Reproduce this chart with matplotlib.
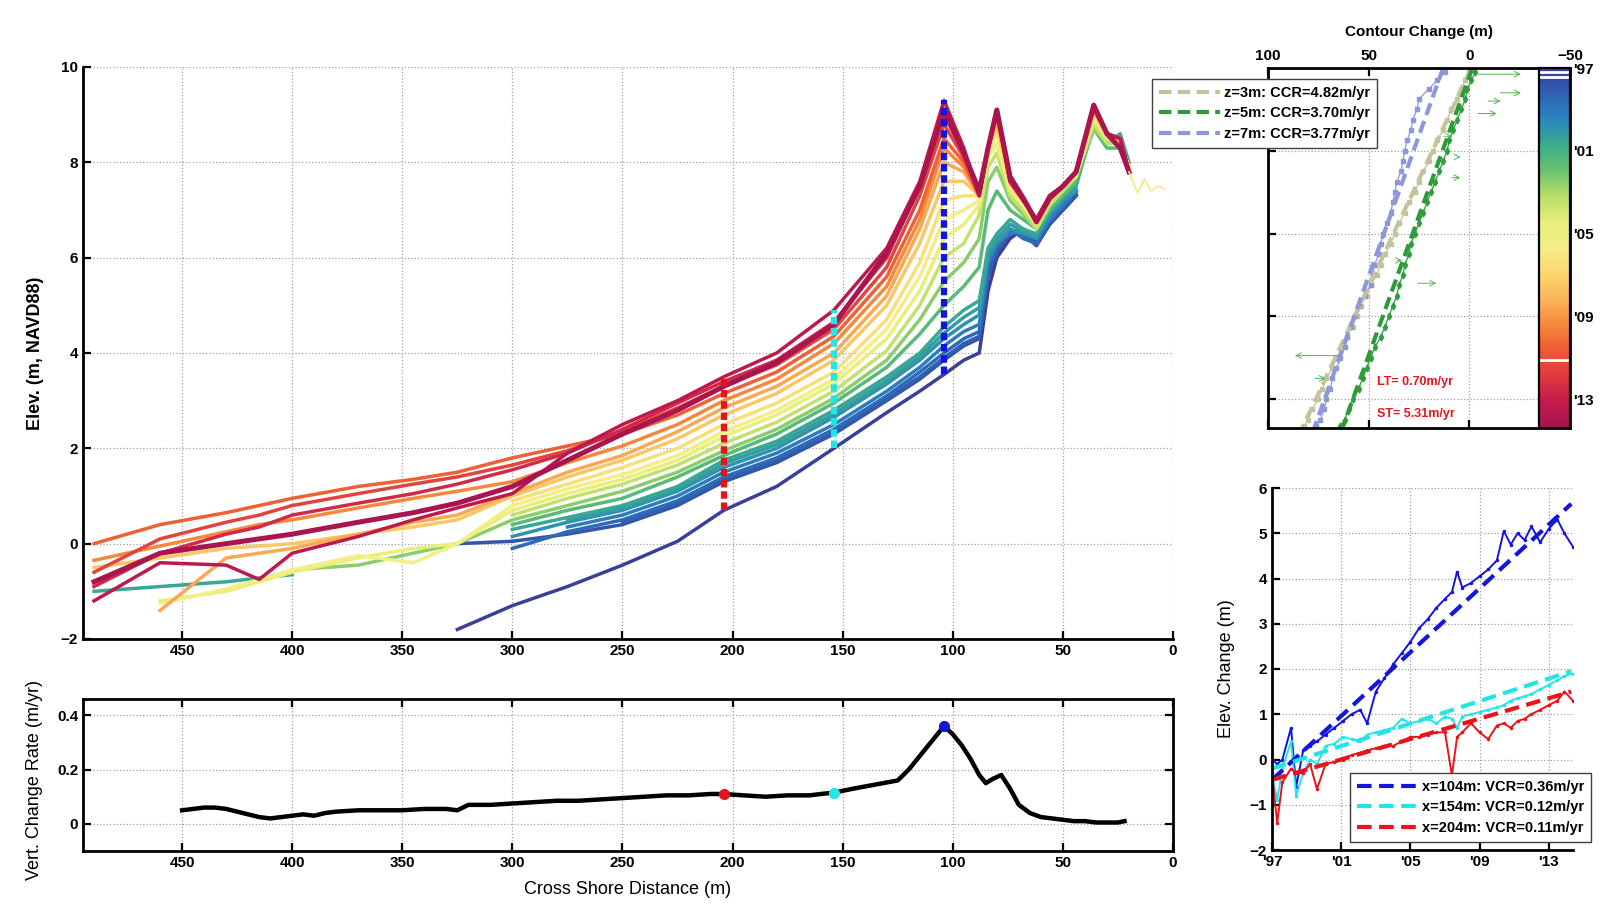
import numpy as np
import matplotlib
matplotlib.use('Agg')
import matplotlib.pyplot as plt
from matplotlib.colors import LinearSegmentedColormap, Normalize
from matplotlib.colorbar import ColorbarBase

plt.rcParams['font.family'] = ['Liberation Sans', 'DejaVu Sans']
plt.rcParams['font.weight'] = 'bold'
plt.rcParams['axes.labelweight'] = 'bold'

N = np.nan

# ---- beach profiles (cross-shore distance in m, elevation in m NAVD88) ----
x_st = [490, 460, 430, 415, 400, 370, 345, 325, 300, 275, 250, 225, 204, 180,
        154, 130, 115, 104, 95, 88, 84, 80, 74, 68, 62, 56, 50, 44, 36, 30, 24, 20]

z_1997_0 = [N, N, N, N, N, N, N, -1.8, -1.3, -0.9, -0.45, 0.05, 0.7, 1.2, 2.0, 2.75, 3.2, 3.55, 3.85, 4.0, 5.3, 6.0, 6.4, 6.6, 6.3, 6.7, 7.0, 7.3, N, N, N, N]
z_1997_8 = [N, N, N, N, N, N, N, 0.0, 0.05, 0.2, 0.4, 0.8, 1.3, 1.7, 2.3, 3.0, 3.45, 3.85, 4.15, 4.3, 5.6, 6.1, 6.5, 6.5, 6.25, 6.7, 7.0, 7.3, N, N, N, N]
z_1998_1 = [N, N, N, N, N, N, N, N, N, N, 0.45, 0.85, 1.35, 1.75, 2.35, 3.05, 3.5, 3.9, 4.2, 4.35, 5.7, 6.15, 6.55, 6.45, 6.3, 6.75, 7.05, 7.35, N, N, N, N]
z_1998_5 = [N, N, N, N, N, N, N, N, -0.1, 0.25, 0.5, 0.9, 1.4, 1.8, 2.4, 3.1, 3.6, 4.0, 4.3, 4.45, 5.8, 6.2, 6.6, 6.4, 6.3, 6.8, 7.1, 7.4, N, N, N, N]
z_1999_2 = [N, N, N, N, N, N, N, N, N, 0.35, 0.6, 1.0, 1.5, 1.9, 2.5, 3.2, 3.7, 4.15, 4.45, 4.6, 5.9, 6.3, 6.5, 6.6, 6.4, 6.8, 7.1, 7.4, N, N, N, N]
z_1999_9 = [N, N, N, N, N, N, N, N, 0.15, 0.45, 0.7, 1.1, 1.6, 2.0, 2.65, 3.35, 3.85, 4.3, 4.6, 4.8, 6.0, 6.3, 6.6, 6.5, 6.4, 6.9, 7.2, 7.4, N, N, N, N]
z_2000_2 = [N, N, N, N, N, N, N, N, N, 0.5, 0.75, 1.15, 1.68, 2.08, 2.72, 3.42, 3.92, 4.42, 4.75, 4.95, 6.1, 6.4, 6.7, 6.55, 6.45, 6.95, 7.25, 7.45, N, N, N, N]
z_2000_6 = [-1.0, -0.9, -0.8, -0.72, -0.65, N, N, N, 0.3, 0.55, 0.8, 1.2, 1.75, 2.15, 2.8, 3.5, 4.0, 4.55, 4.9, 5.1, 6.2, 6.5, 6.8, 6.6, 6.5, 7.0, 7.3, 7.5, 8.8, 8.4, 8.6, 8.0]
z_2001_5 = [N, N, N, N, N, N, N, N, 0.4, 0.7, 0.95, 1.4, 1.85, 2.3, 2.95, 3.7, 4.4, 5.0, 5.4, 5.8, 7.0, 7.4, 7.0, 6.8, 6.6, 7.0, 7.3, 7.6, 8.7, 8.3, 8.3, 7.9]
z_2002_5 = [N, N, N, N, -0.55, -0.45, -0.2, 0.0, 0.5, 0.8, 1.1, 1.5, 1.95, 2.4, 3.05, 3.85, 4.7, 5.5, 5.9, 6.4, 7.6, 7.9, 7.2, 6.9, 6.6, 7.1, 7.4, 7.7, 8.7, 8.4, 8.4, 7.9]
z_2003_5 = [N, N, N, N, N, N, N, N, 0.6, 0.95, 1.25, 1.65, 2.1, 2.55, 3.2, 4.05, 5.0, 6.0, 6.3, 6.9, 7.9, 8.2, 7.3, 7.0, 6.6, 7.1, 7.4, 7.7, 8.8, 8.4, 8.4, 7.9]
z_2004_5 = [N, -1.2, -1.0, -0.8, -0.6, -0.3, -0.1, 0.0, 0.7, 1.05, 1.35, 1.75, 2.25, 2.7, 3.35, 4.3, 5.3, 6.4, 6.7, 7.1, 8.1, 8.4, 7.4, 7.1, 6.7, 7.2, 7.5, 7.7, 8.9, 8.5, 8.4, 7.9]
z_2005_5 = [N, -1.25, -0.95, -0.75, -0.55, -0.25, -0.4, 0.0, 0.8, 1.15, 1.45, 1.85, 2.35, 2.8, 3.45, 4.5, 5.6, 6.8, 7.0, 7.2, 8.2, 8.6, 7.5, 7.1, 6.7, 7.2, 7.5, 7.8, 9.0, 8.5, 8.4, 7.9]
z_2006_5 = [N, N, N, N, N, N, N, N, 0.9, 1.25, 1.6, 2.0, 2.5, 2.95, 3.6, 4.7, 5.9, 7.2, 7.3, 7.3, 8.3, 8.7, 7.5, 7.2, 6.7, 7.2, 7.5, 7.8, 9.0, 8.5, 8.4, 7.8]
z_2007_5 = [-0.5, -0.3, -0.1, -0.05, 0.0, 0.2, 0.35, 0.5, 1.0, 1.4, 1.75, 2.2, 2.7, 3.15, 3.85, 5.0, 6.3, 7.6, 7.6, 7.3, 8.3, 8.8, 7.6, 7.2, 6.8, 7.2, 7.5, 7.8, 9.1, 8.6, 8.5, 7.8]
z_2008_5 = [N, -1.4, -0.3, -0.2, -0.1, 0.2, 0.45, 0.6, 1.05, 1.5, 1.85, 2.35, 2.85, 3.3, 4.0, 5.2, 6.6, 8.0, 7.8, 7.3, 8.3, 8.9, 7.6, 7.2, 6.8, 7.3, 7.5, 7.8, 9.1, 8.6, 8.5, 7.8]
z_2009_5 = [-0.35, -0.05, 0.25, 0.4, 0.5, 0.75, 0.95, 1.1, 1.3, 1.7, 2.05, 2.5, 3.0, 3.45, 4.2, 5.4, 6.8, 8.3, 7.9, 7.3, 8.3, 9.0, 7.6, 7.2, 6.8, 7.3, 7.5, 7.8, 9.1, 8.6, 8.5, 7.8]
z_2010_5 = [0.0, 0.4, 0.65, 0.8, 0.95, 1.2, 1.35, 1.5, 1.8, 2.05, 2.3, 2.7, 3.15, 3.6, 4.35, 5.6, 7.0, 8.5, 8.0, 7.3, 8.3, 9.0, 7.6, 7.2, 6.8, 7.3, 7.5, 7.8, 9.1, 8.6, 8.5, 7.8]
z_2011_5 = [-0.6, 0.1, 0.45, 0.6, 0.8, 1.05, 1.25, 1.4, 1.65, 1.95, 2.35, 2.85, 3.3, 3.75, 4.5, 5.8, 7.3, 8.8, 8.1, 7.3, 8.3, 9.1, 7.6, 7.2, 6.8, 7.3, 7.5, 7.8, 9.2, 8.6, 8.5, 7.8]
z_2012_5 = [-0.9, -0.2, 0.2, 0.35, 0.6, 0.85, 1.05, 1.25, 1.55, 1.9, 2.4, 2.95, 3.4, 3.85, 4.65, 6.0, 7.5, 9.0, 8.2, 7.3, 8.3, 9.1, 7.6, 7.2, 6.8, 7.3, 7.5, 7.8, 9.2, 8.6, 8.5, 7.8]
z_2013_5 = [-1.2, -0.4, -0.45, -0.75, -0.2, 0.15, 0.5, 0.75, 1.05, 1.9, 2.5, 3.0, 3.5, 4.0, 4.9, 6.2, 7.6, 9.3, 8.3, 7.3, 8.3, 9.1, 7.6, 7.2, 6.8, 7.3, 7.5, 7.8, 9.2, 8.6, 8.5, 7.8]
z_2014_3 = [-0.8, -0.2, 0.0, 0.1, 0.2, 0.45, 0.65, 0.85, 1.2, 1.75, 2.3, 2.8, 3.3, 3.8, 4.6, 6.1, 7.5, 9.1, 8.2, 7.4, 8.3, 9.1, 7.7, 7.25, 6.75, 7.25, 7.5, 7.8, 9.2, 8.6, 8.3, 7.8]

prof_years = [1997.0, 1997.8, 1998.1, 1998.5, 1999.2, 1999.9, 2000.2, 2000.6, 2001.5, 2002.5,
              2003.5, 2004.5, 2005.5, 2006.5, 2007.5, 2008.5, 2009.5, 2010.5, 2011.5, 2012.5,
              2013.5, 2014.3]
profiles = [z_1997_0, z_1997_8, z_1998_1, z_1998_5, z_1999_2, z_1999_9, z_2000_2, z_2000_6,
            z_2001_5, z_2002_5, z_2003_5, z_2004_5, z_2005_5, z_2006_5, z_2007_5, z_2008_5,
            z_2009_5, z_2010_5, z_2011_5, z_2012_5, z_2013_5, z_2014_3]

# thin landward tail of one survey
tail_x = [20, 16, 13, 10, 7, 4]
tail_z = [7.8, 7.35, 7.65, 7.4, 7.5, 7.45]
tail_year = 2006.0

# ---- vertical change rate along the profile ----
vcr_x = [450, 445, 440, 435, 430, 425, 420, 415, 410, 405, 400, 395, 390, 385, 380, 370, 360,
         350, 340, 330, 325, 320, 310, 300, 290, 280, 270, 260, 250, 240, 230, 220, 210, 204,
         195, 185, 175, 165, 160, 154, 145, 135, 125, 120, 115, 110, 106, 104, 100, 96, 92,
         88, 85, 82, 78, 74, 70, 65, 60, 55, 50, 45, 40, 35, 30, 25, 22]
vcr = [0.05, 0.055, 0.06, 0.06, 0.055, 0.045, 0.035, 0.025, 0.02, 0.025, 0.03, 0.035, 0.03,
       0.04, 0.045, 0.05, 0.05, 0.05, 0.055, 0.055, 0.05, 0.07, 0.07, 0.075, 0.08, 0.085,
       0.085, 0.09, 0.095, 0.1, 0.105, 0.105, 0.11, 0.11, 0.105, 0.1, 0.105, 0.105, 0.11,
       0.115, 0.13, 0.145, 0.16, 0.2, 0.25, 0.3, 0.34, 0.36, 0.33, 0.29, 0.24, 0.18, 0.15,
       0.165, 0.18, 0.13, 0.07, 0.04, 0.025, 0.02, 0.015, 0.01, 0.01, 0.005, 0.005, 0.005, 0.01]
pick_x = [204, 154, 104]
pick_colors = ['#e8141a', '#22e6e6', '#1414e0']

# ---- elevation change time series at the picked stations ----
t_v = [1997.0, 1997.3, 1997.6, 1998.1, 1998.4, 1998.8, 1999.2, 1999.6, 2000.1, 2000.6,
       2001.1, 2001.6, 2002.1, 2002.5, 2003.0, 2003.5, 2004.0, 2004.5, 2005.0, 2005.5,
       2006.0, 2006.5, 2007.0, 2007.4, 2007.7, 2008.0, 2008.5, 2009.0, 2009.5, 2010.0,
       2010.4, 2010.8, 2011.2, 2011.6, 2012.0, 2012.5, 2013.0, 2013.5, 2013.9, 2014.4]
e104 = [0.0, -0.1, 0.0, 0.7, -0.6, 0.2, 0.3, 0.4, 0.55, 0.7, 0.85, 1.0, 1.1, 0.8, 1.5, 1.8,
        2.1, 2.35, 2.6, 2.9, 3.1, 3.35, 3.55, 3.7, 4.15, 3.8, 3.9, 4.05, 4.2, 4.4, 5.05, 4.75,
        5.0, 4.85, 5.15, 4.8, 5.1, 5.3, 5.0, 4.7]
e154 = [-0.3, -0.9, -0.2, 0.4, -0.8, -0.3, 0.0, -0.1, 0.3, 0.35, 0.5, 0.45, 0.4, 0.55, 0.6,
        0.65, 0.7, 0.9, 0.8, 0.85, 0.9, 0.8, 0.95, 0.9, 0.7, 0.95, 1.0, 1.05, 1.1, 1.15, 1.2,
        1.3, 1.35, 1.4, 1.45, 1.55, 1.65, 1.75, 1.85, 1.9]
e204 = [-0.3, -1.4, -0.5, -0.2, -0.3, -0.3, -0.1, -0.65, -0.1, -0.05, 0.0, 0.1, 0.15, 0.2,
        0.25, 0.3, 0.3, 0.4, 0.5, 0.5, 0.55, 0.6, 0.6, -0.35, 0.5, 0.6, 0.8, 0.6, 0.45, 0.75,
        0.8, 0.7, 0.85, 0.9, 1.0, 1.1, 1.2, 1.3, 1.5, 1.3]
fit_t = [1997.0, 2014.3]
fit104 = [-0.45, 5.65]
fit154 = [-0.2, 1.95]
fit204 = [-0.45, 1.5]
vcr_labels = ['x=104m: VCR=0.36m/yr', 'x=154m: VCR=0.12m/yr', 'x=204m: VCR=0.11m/yr']

# ---- contour position change ----
t_c = [1997.2, 1997.6, 1998.0, 1998.5, 1999.0, 1999.5, 2000.0, 2000.5, 2001.0, 2001.5,
       2002.0, 2002.5, 2003.0, 2003.5, 2004.0, 2004.5, 2005.0, 2005.5, 2006.0, 2006.5,
       2007.0, 2007.5, 2008.0, 2008.5, 2009.0, 2009.5, 2010.0, 2010.5, 2011.0, 2011.5,
       2012.0, 2012.5, 2013.0, 2013.5, 2014.0, 2014.3]
c3 = [0, 2, 4, 6, 9, 11, 13, 16, 18, 20, 23, 25, 27, 30, 32, 35, 37, 39, 42, 44, 46, 49, 51,
      54, 56, 58, 61, 63, 66, 68, 71, 73, 75, 78, 80, 82]
c5 = [-3, -1, 1, 2, 4, 6, 8, 10, 11, 13, 15, 17, 19, 21, 23, 25, 27, 29, 30, 32, 33, 35, 36,
      38, 40, 42, 44, 47, 49, 51, 53, 55, 58, 60, 62, 64]
c7 = [12, 16, 20, 25, 26, 28, 29, 31, 32, 33, 34, 36, 37, 38, 39, 41, 43, 44, 45, 47, 48, 49,
      52, 55, 57, 59, 61, 62, 64, 66, 68, 69, 71, 72, 74, 76]
fit_tc = [1997.0, 2014.4]
fit_c3 = [-1, 83]
fit_c5 = [-1.5, 63]
fit_c7 = [13, 77]
ccr_labels = ['z=3m: CCR=4.82m/yr', 'z=5m: CCR=3.70m/yr', 'z=7m: CCR=3.77m/yr']
arr_t = [1997.3, 1998.2, 1998.6, 1999.2, 2000.3, 2001.3, 2002.3, 2006.3, 2007.4, 2010.9, 2012.0]
arr_from = [-3, -14, -8, -3, 14, 7, 10, 37, 27, 63, 78]
arr_to = [-27, -27, -17, -15, 7, 3, 3, 32, 15, 88, 70]
storm_marks = [1997.2, 1997.42, 2011.1]

cb_colors = ['#3a3f98', '#2f63b5', '#2a86c0', '#3aae8c', '#6cc26c', '#b8de6a', '#e8ef78',
             '#f6ee88', '#fbd76e', '#fbb45a', '#f68a3c', '#ee5a34', '#e0383f', '#c41b4d',
             '#a8144f']
yr_ticks = [1997, 2001, 2005, 2009, 2013]
yr_labels = ["'97", "'01", "'05", "'09", "'13"]

cmap = LinearSegmentedColormap.from_list('survey', cb_colors)
norm = Normalize(1997.0, 2014.4)

W, H = 1617, 915


def box(l, t, r, b):
    return [l / W, 1 - b / H, (r - l) / W, (b - t) / H]


def style(a, size=11):
    a.grid(True, ls=':', color='#a0a0a0', lw=0.9)
    a.set_axisbelow(True)
    a.tick_params(direction='in', length=6, width=1.6, labelsize=size)
    for s in a.spines.values():
        s.set_linewidth(2)


fig = plt.figure(figsize=(W / 100, H / 100), dpi=100)

# main profile panel
ax = fig.add_axes(box(83, 67, 1173, 639))
for i, (yr, z) in enumerate(zip(prof_years, profiles)):
    lw = 3.6 if i == len(profiles) - 1 else 2.5
    ax.plot(x_st, z, color=cmap(norm(yr)), lw=lw, solid_joinstyle='round')
ax.plot(tail_x, tail_z, color=cmap(norm(tail_year)), lw=1.2)
for xv, c in zip(pick_x, pick_colors):
    col = [p[x_st.index(xv)] for p in profiles]
    ax.plot([xv, xv], [np.nanmin(col), np.nanmax(col)], color=c, lw=4.5,
            ls=(0, (1.2, 0.6)), zorder=5)
ax.set_xlim(495, 0)
ax.set_ylim(-2, 10)
ax.set_xticks(range(450, -1, -50))
ax.set_yticks(range(-2, 11, 2))
style(ax, 11)
ax.spines['top'].set_visible(False)
ax.spines['right'].set_visible(False)
ax.set_ylabel('Elev. (m, NAVD88)', fontsize=13)
ax.yaxis.set_label_coords(-0.036, 0.5)

# vertical change rate panel
axr = fig.add_axes(box(83, 699, 1173, 851))
axr.plot(vcr_x, vcr, color='black', lw=3.2)
for xv, c in zip(pick_x, pick_colors):
    axr.plot(xv, vcr[vcr_x.index(xv)], 'o', color=c, ms=7, zorder=5)
axr.set_xlim(495, 0)
axr.set_ylim(-0.1, 0.46)
axr.set_xticks(range(450, -1, -50))
axr.set_yticks([0, 0.2, 0.4])
axr.set_yticklabels(['0', '0.2', '0.4'])
style(axr, 11)
axr.tick_params(top=True, right=True)
axr.set_xlabel('Cross Shore Distance (m)', fontsize=13, fontweight='normal')
axr.xaxis.set_label_coords(0.5, -0.2)
axr.set_ylabel('Vert. Change Rate (m/yr)', fontsize=13, fontweight='normal')
axr.yaxis.set_label_coords(-0.037, 0.47)

# contour change panel
axc = fig.add_axes(box(1268, 68, 1570, 428))
axc.plot(c3, t_c, color='#c4c49c', lw=0.9, marker='s', ms=2.5)
axc.plot(c7, t_c, color='#8c98da', lw=0.9, marker='s', ms=2.5)
axc.plot(c5, t_c, color='#2e9e3e', lw=0.9, marker='d', ms=3.5)
for t, a0, a1 in zip(arr_t, arr_from, arr_to):
    axc.annotate('', xy=(a1, t), xytext=(a0, t),
                 arrowprops=dict(arrowstyle='->', color='#5cb054', lw=0.7))
h3, = axc.plot(fit_c3, fit_tc, color='#c4c49c', lw=3, ls=(0, (3, 1.5)))
h7, = axc.plot(fit_c7, fit_tc, color='#8c98da', lw=3, ls=(0, (3, 1.5)))
h5, = axc.plot(fit_c5, fit_tc, color='#2e9a3a', lw=3, ls=(0, (3, 1.5)))
axc.set_xlim(100, -50)
axc.set_ylim(2014.4, 1997)
axc.set_xticks([100, 50, 0, -50])
axc.set_yticks(yr_ticks[1:])
axc.set_yticklabels([])
style(axc, 11)
axc.tick_params(top=True, right=True, labeltop=True, labelbottom=False, left=True)
axc.xaxis.set_label_position('top')
axc.set_xlabel('Contour Change (m)', fontsize=11)
axc.xaxis.set_label_coords(0.5, 1.09)
axc.text(46, 2012.2, 'LT= 0.70m/yr', color='#e8141a', fontsize=9, va='center', ha='left')
axc.text(46, 2013.7, 'ST= 5.31m/yr', color='#e8141a', fontsize=9, va='center', ha='left')
axc.legend([h3, h5, h7], ccr_labels, loc='upper left', bbox_to_anchor=(1145 / W, 1 - 72 / H),
           bbox_transform=fig.transFigure, fontsize=10.5, handlelength=4.2, handletextpad=0.3,
           fancybox=False, edgecolor='#404040', framealpha=1, borderpad=0.45, labelspacing=0.45)

# colorbar drawn inside the contour panel
axcb = fig.add_axes(box(1539, 68, 1570, 428))
cb = ColorbarBase(axcb, cmap=cmap, norm=norm, orientation='vertical')
axcb.invert_yaxis()
cb.set_ticks(yr_ticks)
cb.set_ticklabels(yr_labels)
axcb.tick_params(length=0, labelsize=11, pad=2)
cb.outline.set_linewidth(1.6)
for m in storm_marks:
    axcb.axhline(m, color='white', lw=2)

# elevation change time series panel
axe = fig.add_axes(box(1272, 488, 1573, 850))
axe.plot(t_v, e104, color='#1414e0', lw=1.4, marker='.', ms=3)
axe.plot(t_v, e154, color='#22e6e6', lw=1.4, marker='.', ms=3)
axe.plot(t_v, e204, color='#e8141a', lw=1.4, marker='.', ms=3)
g1, = axe.plot(fit_t, fit104, color='#1414e0', lw=3, ls=(0, (3.5, 1.8)))
g2, = axe.plot(fit_t, fit154, color='#22e6e6', lw=3, ls=(0, (3.5, 1.8)))
g3, = axe.plot(fit_t, fit204, color='#e8141a', lw=3, ls=(0, (3.5, 1.8)))
axe.set_xlim(1997, 2014.4)
axe.set_ylim(-2, 6)
axe.set_xticks(yr_ticks)
axe.set_xticklabels(yr_labels)
axe.set_yticks(range(-2, 7))
style(axe, 11)
axe.spines['top'].set_visible(False)
axe.spines['right'].set_visible(False)
axe.set_ylabel('Elev. Change (m)', fontsize=13, fontweight='normal')
axe.yaxis.set_label_coords(-0.123, 0.5)
axe.legend([g1, g2, g3], vcr_labels, loc='upper left', bbox_to_anchor=(1343 / W, 1 - 766 / H),
           bbox_transform=fig.transFigure, fontsize=10.5, handlelength=4.2, handletextpad=0.3,
           fancybox=False, edgecolor='#404040', framealpha=1, borderpad=0.45, labelspacing=0.45)

fig.savefig('out.png', dpi=100)
